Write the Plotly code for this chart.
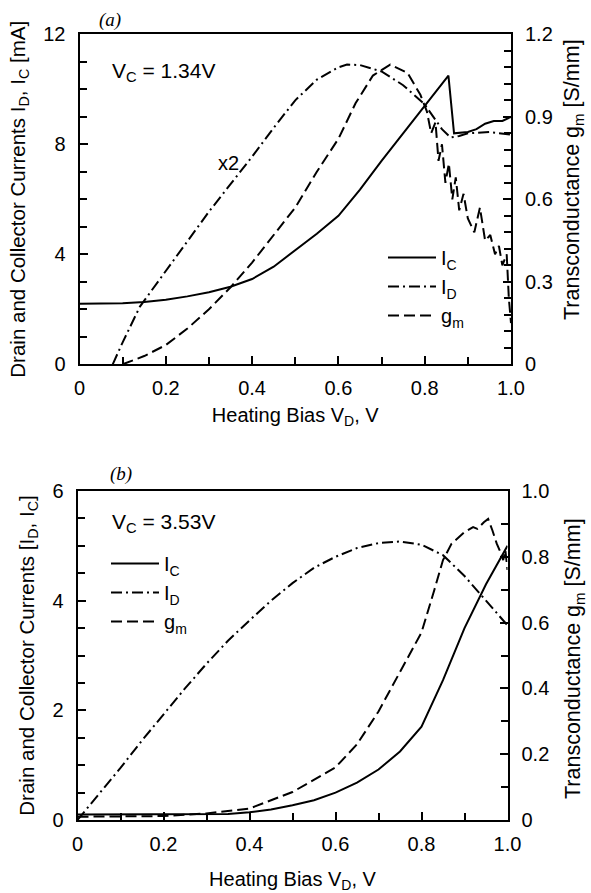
import plotly.graph_objects as go

# ---------------- Panel (a): V_C = 1.34 V ----------------
vd_a_ic = [0, 0.05, 0.1, 0.15, 0.2, 0.25, 0.3, 0.35, 0.4, 0.45, 0.5, 0.55, 0.6, 0.65,
           0.7, 0.75, 0.8, 0.83, 0.855, 0.868, 0.9, 0.92, 0.94, 0.96, 0.98, 1.0]
ic_a = [2.2, 2.2, 2.22, 2.27, 2.35, 2.47, 2.62, 2.82, 3.1, 3.55, 4.15, 4.75, 5.4, 6.35,
        7.4, 8.4, 9.4, 10.0, 10.5, 8.4, 8.45, 8.55, 8.75, 8.85, 8.85, 9.0]

vd_a_id = [0.077, 0.1, 0.14, 0.2, 0.25, 0.3, 0.35, 0.4, 0.45, 0.5, 0.55, 0.6, 0.62, 0.65,
           0.7, 0.75, 0.8, 0.82, 0.84, 0.86, 0.88, 0.9, 0.95, 1.0]
id_a_x2 = [0, 0.8, 2.1, 3.4, 4.5, 5.55, 6.55, 7.55, 8.6, 9.6, 10.35, 10.8, 10.9, 10.88,
           10.65, 10.15, 9.45, 9.0, 8.55, 8.25, 8.3, 8.4, 8.45, 8.35]

vd_a_gm = [0.1, 0.15, 0.2, 0.25, 0.3, 0.35, 0.4, 0.45, 0.5, 0.55, 0.6, 0.64, 0.68, 0.72,
           0.76, 0.79, 0.805, 0.815, 0.825, 0.832, 0.84, 0.848, 0.856, 0.864, 0.872,
           0.88, 0.89, 0.9, 0.915, 0.928, 0.94, 0.952, 0.963, 0.972, 0.98, 0.99, 0.995, 1.0]
gm_a = [0, 0.03, 0.07, 0.13, 0.2, 0.28, 0.37, 0.47, 0.57, 0.7, 0.82, 0.95, 1.05, 1.09,
        1.06, 0.98, 0.92, 0.84, 0.88, 0.74, 0.8, 0.66, 0.73, 0.6, 0.68, 0.56, 0.62, 0.53,
        0.48, 0.57, 0.45, 0.47, 0.4, 0.43, 0.36, 0.4, 0.24, 0.15]

# ---------------- Panel (b): V_C = 3.53 V ----------------
vd_b = [0, 0.05, 0.1, 0.15, 0.2, 0.25, 0.3, 0.35, 0.4, 0.45, 0.5, 0.55, 0.6, 0.65, 0.7,
        0.75, 0.8, 0.85, 0.9, 0.95, 1.0]
ic_b = [0.1, 0.1, 0.1, 0.1, 0.1, 0.1, 0.1, 0.11, 0.14, 0.19, 0.27, 0.36, 0.5, 0.68, 0.92,
        1.25, 1.7, 2.55, 3.5, 4.3, 5.0]
id_b = [0, 0.47, 0.95, 1.45, 1.93, 2.4, 2.85, 3.27, 3.64, 4.0, 4.32, 4.6, 4.8, 4.96, 5.05,
        5.08, 5.02, 4.83, 4.45, 4.0, 3.55]

vd_b_gm = [0, 0.1, 0.2, 0.3, 0.4, 0.5, 0.6, 0.65, 0.7, 0.75, 0.8, 0.83, 0.85, 0.87, 0.9,
           0.92, 0.93, 0.945, 0.955, 0.965, 0.975, 0.985, 0.99, 0.995, 1.0]
gm_b = [0.01, 0.01, 0.012, 0.02, 0.035, 0.085, 0.16, 0.23, 0.33, 0.45, 0.57, 0.7, 0.79,
        0.84, 0.875, 0.89, 0.885, 0.905, 0.915, 0.88, 0.84, 0.81, 0.79, 0.82, 0.76]

# ticks: labelled (major) and unlabelled (minor)
x_major = [0, 0.2, 0.4, 0.6, 0.8, 1.0]
x_major_text = ["0", "0.2", "0.4", "0.6", "0.8", "1.0"]
x_minor = [0.1, 0.3, 0.5, 0.7, 0.9]
ya_major = [0, 4, 8, 12]
ya_minor = [1, 2, 3, 5, 6, 7, 9, 10, 11]
ya2_major = [0, 0.3, 0.6, 0.9, 1.2]
ya2_major_text = ["0", "0.3", "0.6", "0.9", "1.2"]
ya2_minor = [0.06, 0.12, 0.18, 0.24, 0.36, 0.42, 0.48, 0.54, 0.66, 0.72, 0.78, 0.84,
             0.96, 1.02, 1.08, 1.14]
yb_major = [0, 2, 4, 6]
yb_minor = [0.5, 1, 1.5, 2.5, 3, 3.5, 4.5, 5, 5.5]
yb2_major = [0, 0.2, 0.4, 0.6, 0.8, 1.0]
yb2_major_text = ["0", "0.2", "0.4", "0.6", "0.8", "1.0"]
yb2_minor = [0.1, 0.3, 0.5, 0.7, 0.9]

FONT = "Arial, Liberation Sans, Helvetica, sans-serif"
W, H = 591, 893
LW = 2
DASHDOT = "11px,4px,2px,4px"
DASH = "11px,5px"

fig = go.Figure()

fig.add_trace(go.Scatter(x=vd_a_ic, y=ic_a, mode="lines", name="I<sub>C</sub>",
                         line=dict(color="black", width=LW), xaxis="x", yaxis="y",
                         legend="legend"))
fig.add_trace(go.Scatter(x=vd_a_id, y=id_a_x2, mode="lines", name="I<sub>D</sub>",
                         line=dict(color="black", width=LW, dash=DASHDOT), xaxis="x",
                         yaxis="y", legend="legend"))
fig.add_trace(go.Scatter(x=vd_a_gm, y=gm_a, mode="lines", name="g<sub>m</sub>",
                         line=dict(color="black", width=LW, dash=DASH), xaxis="x",
                         yaxis="y2", legend="legend"))

fig.add_trace(go.Scatter(x=vd_b, y=ic_b, mode="lines", name="I<sub>C</sub>",
                         line=dict(color="black", width=LW), xaxis="x2", yaxis="y3",
                         legend="legend2"))
fig.add_trace(go.Scatter(x=vd_b, y=id_b, mode="lines", name="I<sub>D</sub>",
                         line=dict(color="black", width=LW, dash=DASHDOT), xaxis="x2",
                         yaxis="y3", legend="legend2"))
fig.add_trace(go.Scatter(x=vd_b_gm, y=gm_b, mode="lines", name="g<sub>m</sub>",
                         line=dict(color="black", width=LW, dash=DASH), xaxis="x2",
                         yaxis="y4", legend="legend2"))

xa_dom = [79.5 / W, 511 / W]
ya_dom = [1 - 364.3 / H, 1 - 34.3 / H]
xb_dom = [77.5 / W, 507.5 / W]
yb_dom = [1 - 820 / H, 1 - 491 / H]

tickfont = dict(family=FONT, size=20, color="black")


def minor(vals):
    return dict(tickmode="array", tickvals=vals, ticks="inside", ticklen=7,
                tickwidth=1.5, tickcolor="black", showgrid=False)


def xax(domain, anchor, standoff):
    return dict(domain=domain, anchor=anchor, range=[0, 1], showline=True,
                linecolor="black", linewidth=2, mirror=True, ticks="inside",
                ticklen=8, tickwidth=1.5, tickcolor="black", tickmode="array",
                tickvals=x_major, ticktext=x_major_text, tickfont=tickfont,
                showgrid=False, zeroline=False, ticklabelstandoff=5,
                minor=minor(x_minor),
                title=dict(text="Heating Bias V<sub>D</sub>, V",
                           font=dict(family=FONT, size=20, color="black"),
                           standoff=standoff),
                automargin=False)


def yax(domain, anchor, rng, tickvals, ticktext, minvals, side, title=None,
        overlay=None):
    d = dict(domain=domain, anchor=anchor, range=rng, side=side, showline=True,
             linecolor="black", linewidth=2, ticks="inside", ticklen=8,
             tickwidth=1.5, tickcolor="black", tickmode="array", tickvals=tickvals,
             ticktext=ticktext, tickfont=tickfont, showgrid=False, zeroline=False,
             ticklabelstandoff=8, minor=minor(minvals), automargin=False)
    if title:
        d["title"] = dict(text=title, font=dict(family=FONT, size=20.5, color="black"),
                          standoff=12)
    if overlay:
        d["overlaying"] = overlay
    return d


fig.update_layout(
    width=W, height=H,
    margin=dict(l=0, r=0, t=0, b=0),
    paper_bgcolor="white", plot_bgcolor="white",
    font=dict(family=FONT, size=20, color="black"),
    xaxis=xax(xa_dom, "y", 10),
    yaxis=yax(ya_dom, "x", [0, 12], ya_major, [str(v) for v in ya_major], ya_minor,
              "left", "Drain and Collector Currents I<sub>D</sub>, I<sub>C</sub> [mA]"),
    yaxis2=yax(ya_dom, "x", [0, 1.2], ya2_major, ya2_major_text, ya2_minor, "right",
               overlay="y"),
    xaxis2=xax(xb_dom, "y3", 19),
    yaxis3=yax(yb_dom, "x2", [0, 6], yb_major, [str(v) for v in yb_major], yb_minor,
               "left", "Drain and Collector Currents [I<sub>D</sub>, I<sub>C</sub>]"),
    yaxis4=yax(yb_dom, "x2", [0, 1.0], yb2_major, yb2_major_text, yb2_minor, "right",
               overlay="y3"),
    legend=dict(x=383 / W, y=1 - 238 / H, xanchor="left", yanchor="top",
                bgcolor="rgba(0,0,0,0)", font=dict(family=FONT, size=20),
                tracegroupgap=0, itemwidth=48),
    legend2=dict(x=106 / W, y=1 - 544 / H, xanchor="left", yanchor="top",
                 bgcolor="rgba(0,0,0,0)", font=dict(family=FONT, size=20),
                 tracegroupgap=0, itemwidth=48),
    showlegend=True,
)

ann = [
    dict(text="<i>(a)</i>", x=97 / W, y=1 - 20 / H, xanchor="left", yanchor="middle",
         font=dict(family="Liberation Serif, Times New Roman, serif", size=19)),
    dict(text="V<sub>C</sub> = 1.34V", x=110 / W, y=1 - 72 / H, xanchor="left",
         yanchor="middle", font=dict(family=FONT, size=21)),
    dict(text="x2", x=228 / W, y=1 - 163 / H, xanchor="center", yanchor="middle",
         font=dict(family=FONT, size=20)),
    dict(text="<i>(b)</i>", x=108 / W, y=1 - 474 / H, xanchor="left", yanchor="middle",
         font=dict(family="Liberation Serif, Times New Roman, serif", size=19)),
    dict(text="V<sub>C</sub> = 3.53V", x=110 / W, y=1 - 523 / H, xanchor="left",
         yanchor="middle", font=dict(family=FONT, size=21)),
    # right-hand axis titles
    dict(text="Transconductance g<sub>m</sub> [S/mm]", x=573 / W, y=1 - 180 / H,
         xanchor="center", yanchor="middle", textangle=-90,
         font=dict(family=FONT, size=21.5)),
    dict(text="Transconductance g<sub>m</sub> [S/mm]", x=574 / W, y=1 - 659 / H,
         xanchor="center", yanchor="middle", textangle=-90,
         font=dict(family=FONT, size=21.5)),
]
for a in ann:
    a.update(xref="paper", yref="paper", showarrow=False)
fig.update_layout(annotations=ann)

fig.write_html("out.html")
